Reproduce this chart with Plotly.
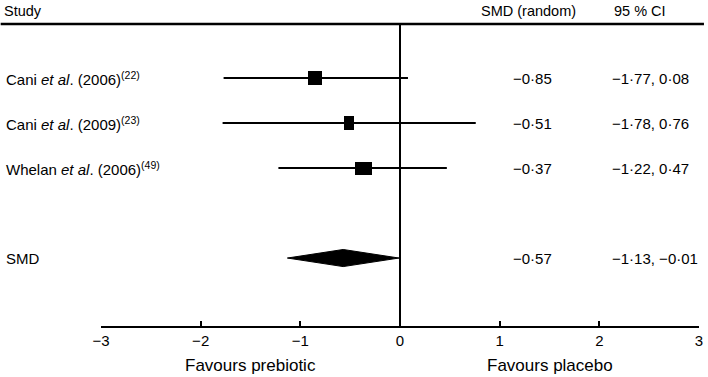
import plotly.graph_objects as go

# ---- data ----
study_html = [
    "Cani <i>et al</i>. (2006)<sup>(22)</sup>",
    "Cani <i>et al</i>. (2009)<sup>(23)</sup>",
    "Whelan <i>et al</i>. (2006)<sup>(49)</sup>",
]
smd = [-0.85, -0.51, -0.37]
ci_lo = [-1.77, -1.78, -1.22]
ci_hi = [0.08, 0.76, 0.47]
rows = [1, 2, 3]

pooled_label = "SMD"
pooled_smd = -0.57
pooled_lo = -1.13
pooled_hi = -0.01
pooled_row = 5

x_ticks = [-3, -2, -1, 0, 1, 2, 3]

# ---- style ----
FONT = "Liberation Sans, Arial, Helvetica, sans-serif"
FS = 15
W, H = 708, 377
ML, MR, MT, MB = 101, 5, 24, 51
plot_w = W - ML - MR
px_per_unit = plot_w / 6.0
box_w_px = [14, 10, 17]   # marker box widths (weights) in px
box_h = 0.29              # box height in y units
diamond_half = 0.19


def fmt(v):
    s = f"{abs(v):.2f}".replace(".", "\u00b7")
    return ("\u2212" if v < 0 else "") + s


def px_to_paper(px):
    return (px - ML) / plot_w


fig = go.Figure()

# CI lines
for r, lo, hi in zip(rows, ci_lo, ci_hi):
    fig.add_trace(go.Scatter(x=[lo, hi], y=[r, r], mode="lines",
                             line=dict(color="black", width=2),
                             hoverinfo="skip", showlegend=False))

# boxes as horizontal bars
bw = [w / px_per_unit for w in box_w_px]
fig.add_trace(go.Bar(
    y=rows, x=bw, base=[e - w / 2 for e, w in zip(smd, bw)],
    orientation="h", width=box_h,
    marker=dict(color="black", line=dict(width=0)),
    showlegend=False, hoverinfo="skip"))

# pooled diamond
fig.add_trace(go.Scatter(
    x=[pooled_lo, pooled_smd, pooled_hi, pooled_smd, pooled_lo],
    y=[pooled_row, pooled_row - diamond_half, pooled_row,
       pooled_row + diamond_half, pooled_row],
    mode="lines", fill="toself", fillcolor="black",
    line=dict(color="black", width=1), showlegend=False, hoverinfo="skip"))

shapes = [
    # zero line
    dict(type="line", xref="x", yref="paper", x0=0, x1=0, y0=0, y1=1,
         line=dict(color="black", width=2)),
    # top rule across the figure
    dict(type="line", xref="paper", yref="paper",
         x0=px_to_paper(0), x1=px_to_paper(W), y0=1, y1=1,
         line=dict(color="black", width=2.5)),
]

ann = []
x_left = px_to_paper(3)
x_smd = px_to_paper(557)
x_ci = px_to_paper(613)

# headers
ann.append(dict(text="Study", x=px_to_paper(1), xanchor="left", y=1,
                yanchor="bottom", yshift=3, size=14.5))
ann.append(dict(text="SMD (random)", x=px_to_paper(482), xanchor="left", y=1,
                yanchor="bottom", yshift=3, size=14.5))
ann.append(dict(text="95 % CI", x=px_to_paper(615), xanchor="left", y=1,
                yanchor="bottom", yshift=3, size=14.5))

all_labels = study_html + [pooled_label]
all_rows = rows + [pooled_row]
all_smd = smd + [pooled_smd]
all_lo = ci_lo + [pooled_lo]
all_hi = ci_hi + [pooled_hi]
for lab, r, e, lo, hi in zip(all_labels, all_rows, all_smd, all_lo, all_hi):
    common = dict(yref="y", y=r, yanchor="middle")
    ann.append(dict(text=lab, x=x_left, xanchor="left", **common))
    ann.append(dict(text=fmt(e), x=x_smd, xanchor="right", **common))
    ann.append(dict(text=f"{fmt(lo)}, {fmt(hi)}", x=x_ci,
                    xanchor="left", **common))

# favours labels
ann.append(dict(text="Favours prebiotic", xref="x", x=-1.5, xanchor="center",
                y=0, yanchor="bottom", yshift=-51, size=17))
ann.append(dict(text="Favours placebo", xref="x", x=1.5, xanchor="center",
                y=0, yanchor="bottom", yshift=-51, size=17))

for a in ann:
    a.setdefault("xref", "paper")
    a.setdefault("yref", "paper")
    a["showarrow"] = False
    a["font"] = dict(family=FONT, size=a.pop("size", FS), color="black")

fig.update_layout(
    width=W, height=H,
    margin=dict(l=ML, r=MR, t=MT, b=MB, pad=0),
    paper_bgcolor="white", plot_bgcolor="white",
    shapes=shapes, annotations=ann,
    font=dict(family=FONT, size=FS, color="black"),
    bargap=0,
    xaxis=dict(range=[-3, 3], tickvals=x_ticks,
               ticktext=[("\u2212" + str(-t)) if t < 0 else str(t) for t in x_ticks],
               ticks="inside", ticklen=5, tickwidth=2, tickcolor="black",
               showline=True, linecolor="black", linewidth=2,
               showgrid=False, zeroline=False,
               tickfont=dict(family=FONT, size=FS, color="black")),
    yaxis=dict(range=[6.51, -0.20], visible=False, showgrid=False,
               zeroline=False, fixedrange=True),
)

fig.write_html(
    "out.html",
    config={"displayModeBar": False},
    post_script="document.body.style.margin='0';document.body.style.padding='0';"
                "document.body.style.overflow='hidden';",
)
